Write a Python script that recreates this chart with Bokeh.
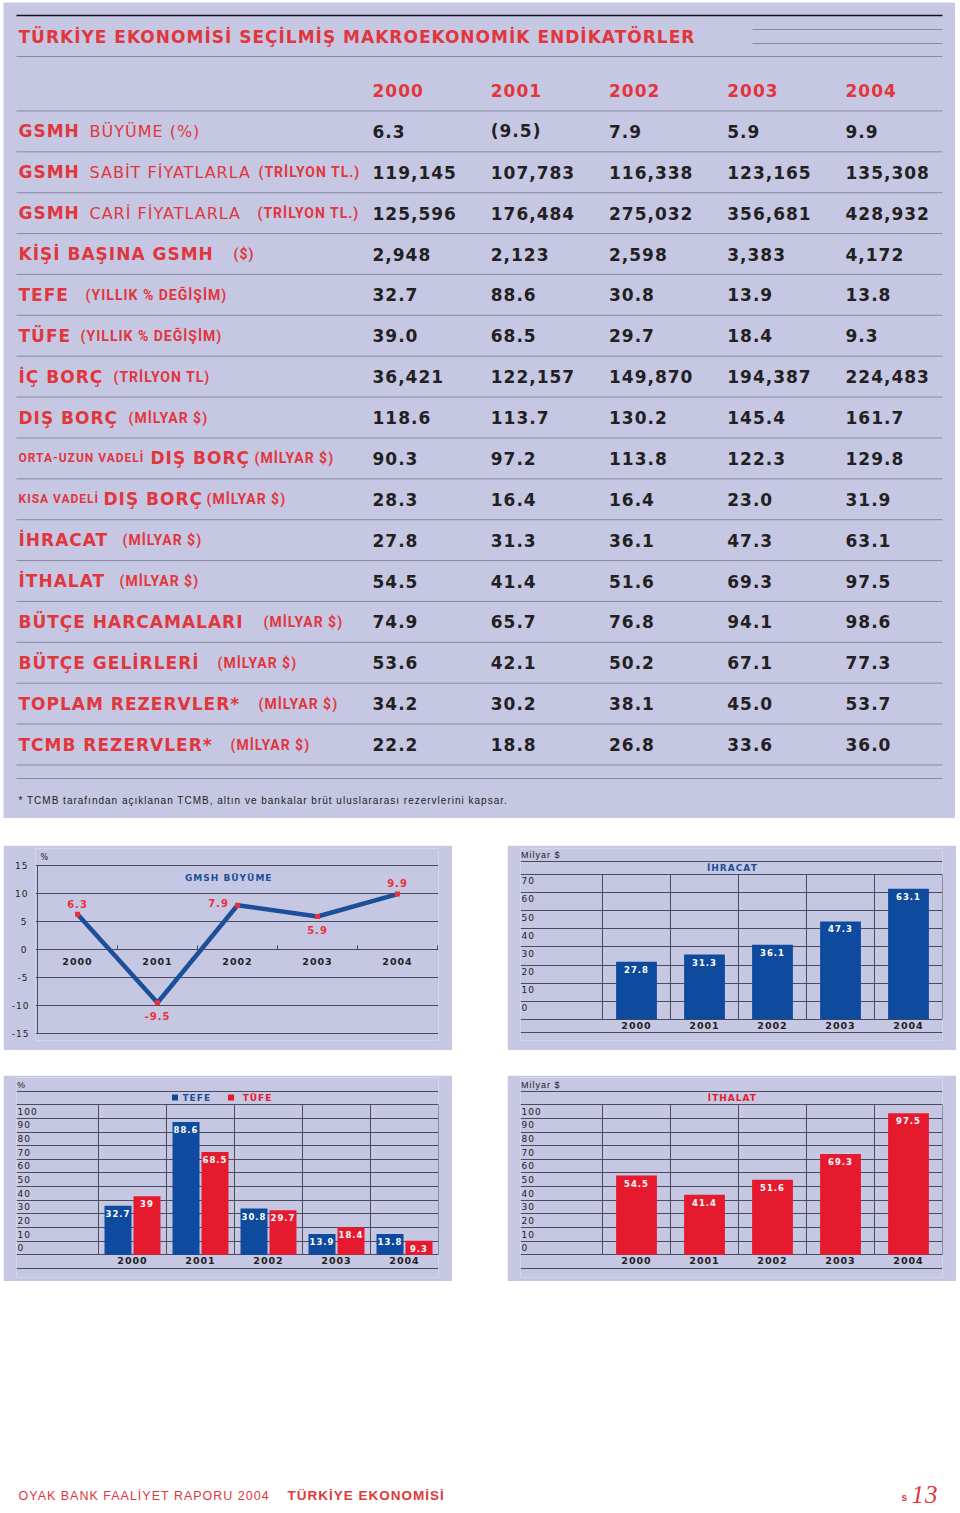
from bokeh.plotting import figure
from bokeh.layouts import column, row
from bokeh.models import Range1d, FixedTicker, Spacer, Grid
from bokeh.core.properties import value
from bokeh.embed import file_html
from bokeh.resources import INLINE

# ---------------- data ----------------
years = ["2000", "2001", "2002", "2003", "2004"]

gsmh_buyume = [6.3, -9.5, 7.9, 5.9, 9.9]
gsmh_sabit = [119145, 107783, 116338, 123165, 135308]
gsmh_cari = [125596, 176484, 275032, 356681, 428932]
kisi_basina = [2948, 2123, 2598, 3383, 4172]
tefe = [32.7, 88.6, 30.8, 13.9, 13.8]
tufe = [39.0, 68.5, 29.7, 18.4, 9.3]
ic_borc = [36421, 122157, 149870, 194387, 224483]
dis_borc = [118.6, 113.7, 130.2, 145.4, 161.7]
orta_uzun_dis_borc = [90.3, 97.2, 113.8, 122.3, 129.8]
kisa_dis_borc = [28.3, 16.4, 16.4, 23.0, 31.9]
ihracat = [27.8, 31.3, 36.1, 47.3, 63.1]
ithalat = [54.5, 41.4, 51.6, 69.3, 97.5]
butce_harcamalari = [74.9, 65.7, 76.8, 94.1, 98.6]
butce_gelirleri = [53.6, 42.1, 50.2, 67.1, 77.3]
toplam_rezervler = [34.2, 30.2, 38.1, 45.0, 53.7]
tcmb_rezervler = [22.2, 18.8, 26.8, 33.6, 36.0]

table_title = "TÜRKİYE EKONOMİSİ SEÇİLMİŞ MAKROEKONOMİK ENDİKATÖRLER"
footnote = "* TCMB tarafından açıklanan TCMB, altın ve bankalar brüt uluslararası rezervlerini kapsar."

row_labels = [
    [("GSMH", "B"), ("BÜYÜME (%)", "R")],
    [("GSMH", "B"), ("SABİT FİYATLARLA", "R"), ("(TRİLYON TL.)", "C")],
    [("GSMH", "B"), ("CARİ FİYATLARLA", "R"), ("(TRİLYON TL.)", "C")],
    [("KİŞİ BAŞINA GSMH", "B"), ("($)", "C")],
    [("TEFE", "B"), ("(YILLIK % DEĞİŞİM)", "C")],
    [("TÜFE", "B"), ("(YILLIK % DEĞİŞİM)", "C")],
    [("İÇ BORÇ", "B"), ("(TRİLYON TL)", "C")],
    [("DIŞ BORÇ", "B"), ("(MİLYAR $)", "C")],
    [("ORTA-UZUN VADELİ", "c"), ("DIŞ BORÇ", "B"), ("(MİLYAR $)", "C")],
    [("KISA VADELİ", "c"), ("DIŞ BORÇ", "B"), ("(MİLYAR $)", "C")],
    [("İHRACAT", "B"), ("(MİLYAR $)", "C")],
    [("İTHALAT", "B"), ("(MİLYAR $)", "C")],
    [("BÜTÇE HARCAMALARI", "B"), ("(MİLYAR $)", "C")],
    [("BÜTÇE GELİRLERİ", "B"), ("(MİLYAR $)", "C")],
    [("TOPLAM REZERVLER*", "B"), ("(MİLYAR $)", "C")],
    [("TCMB REZERVLER*", "B"), ("(MİLYAR $)", "C")],
]
row_values = [gsmh_buyume, gsmh_sabit, gsmh_cari, kisi_basina, tefe, tufe, ic_borc,
              dis_borc, orta_uzun_dis_borc, kisa_dis_borc, ihracat, ithalat,
              butce_harcamalari, butce_gelirleri, toplam_rezervler, tcmb_rezervler]
row_formats = ["growth", "int", "int", "int", "f1", "f1", "int", "f1", "f1", "f1",
               "f1", "f1", "f1", "f1", "f1", "f1"]

line_ticks = [-15, -10, -5, 0, 5, 10, 15]
ihracat_ticks = ["70", "60", "50", "40", "30", "20", "10", "0"]
enflasyon_ticks = ["100", "90", "80", "70", "60", "50", "40", "30", "20", "10", "0"]
ithalat_ticks = ["100", "90", "80", "70", "60", "50", "40", "30", "20", "10", "0"]
legend_names = ["TEFE", "TÜFE"]

# ---------------- styles / layout constants ----------------
LAV = "#c6c7e3"
RED_T = "#e1363c"
NUM_C = "#231f22"
LINE_T = "#8a8ba2"
GRID_C = "#4a4b5c"
BLUE = "#0e4a9d"
BLUE_T = "#1d4f98"
BAR_RED = "#e61a2e"
TXT = "#222222"
LS = 1.0  # letter spacing in px

label_px = [[18, 89], [18, 89, 258], [18, 89, 257], [18, 233], [18, 85], [18, 80],
            [18, 113], [18, 128], [18, 150, 254], [18, 103, 206], [18, 122], [18, 119],
            [18, 263], [18, 217], [18, 258], [18, 230]]

FONTS = {
    "B": ("DejaVu Sans", "bold", "17px"),
    "R": ("DejaVu Sans", "normal", "16px"),
    "C": ("Roboto", "bold", "14px"),
    "c": ("Roboto", "bold", "12px"),
}


def fmt(v, kind):
    if kind == "growth":
        return f"({abs(v):.1f})" if v < 0 else f"{v:.1f}"
    if kind == "int":
        return f"{v:,}"
    return f"{v:.1f}"


def chart_label(v):
    return f"{v:g}"


def comp(texts):
    # compensate centred text for the inherited letter spacing
    return [-len(t) * LS / 2 for t in texts]


def cx(px):
    return (px - 372) / 118.25


def ry(py):
    return (py - 90) / 40.875


def base_fig(w, h, xr, yr, **kw):
    p = figure(width=w, height=h, x_range=xr, y_range=yr, output_backend="svg",
               toolbar_location=None, background_fill_color=LAV, border_fill_color=LAV,
               outline_line_color=None, **kw)
    p.styles = {"letter-spacing": f"{LS}px"}
    return p


# ---------------- table (page px 3..955 x 2..818) ----------------
T = base_fig(952, 816, Range1d(cx(3), cx(955)), Range1d(ry(818), ry(2)),
             x_axis_type=None, y_axis_type=None, min_border=0)

T.segment(x0=[cx(16)], x1=[cx(942)], y0=[ry(15)], y1=[ry(15)], line_color="#151515", line_width=1.6)
T.text(x=[cx(18)], y=[ry(36.5)], text=[table_title], text_font=value("DejaVu Sans"),
       text_font_style="bold", text_font_size="17px", text_color=RED_T,
       text_baseline="middle", text_align="left")
T.segment(x0=[cx(752)] * 2, x1=[cx(942)] * 2, y0=[ry(29), ry(43)], y1=[ry(29), ry(43)],
          line_color=LINE_T, line_width=1)
hl = [ry(56)] + [i + 0.5 for i in range(17)] + [ry(778)]
T.segment(x0=[cx(16)] * len(hl), x1=[cx(942)] * len(hl), y0=hl, y1=hl, line_color=LINE_T, line_width=1)

T.text(x=list(range(5)), y=[0] * 5, text=years, text_font=value("DejaVu Sans"),
       text_font_style="bold", text_font_size="17px", text_color=RED_T,
       text_baseline="middle", text_align="left")

vx, vy, vt = [], [], []
for i, (vals, kind) in enumerate(zip(row_values, row_formats)):
    for j, v in enumerate(vals):
        vx.append(j)
        vy.append(i + 1)
        vt.append(fmt(v, kind))
T.text(x=vx, y=vy, text=vt, text_font=value("DejaVu Sans"), text_font_style="bold",
       text_font_size="17px", text_color=NUM_C, text_baseline="middle", text_align="left")

parts = {k: ([], [], []) for k in FONTS}
for i, (lab, xs) in enumerate(zip(row_labels, label_px)):
    for (txt, kind), px in zip(lab, xs):
        parts[kind][0].append(cx(px))
        parts[kind][1].append(i + 1)
        parts[kind][2].append(txt)
for kind, (xs, ys, ts) in parts.items():
    fam, sty, size = FONTS[kind]
    T.text(x=xs, y=ys, text=ts, text_font=value(fam), text_font_style=sty, text_font_size=size,
           text_color=RED_T, text_baseline="middle", text_align="left")

T.text(x=[cx(18)], y=[ry(800)], text=[footnote], text_font=value("Liberation Sans"),
       text_font_size="10px", text_color=TXT, text_baseline="middle", text_align="left")

# ---------------- chart 1: GSMH growth line (page px 3..452 x 845..1050) ----------------
idx = list(range(5))
C1 = base_fig(449, 205, Range1d(-0.525, 4.5125), Range1d(-16.25, 18.036), x_axis_type=None,
              min_border_left=32, min_border_right=14, min_border_top=3, min_border_bottom=10)
C1.yaxis.ticker = FixedTicker(ticks=line_ticks)
C1.yaxis.major_label_overrides = {t: str(t) for t in line_ticks}
C1.yaxis.axis_line_color = None
C1.yaxis.major_tick_line_color = None
C1.yaxis.minor_tick_line_color = None
C1.yaxis.major_label_standoff = 3
C1.yaxis.major_label_text_font = "DejaVu Sans"
C1.yaxis.major_label_text_font_size = "9px"
C1.yaxis.major_label_text_color = TXT
C1.ygrid.ticker = FixedTicker(ticks=line_ticks)
C1.ygrid.grid_line_color = GRID_C
C1.segment(x0=[-0.5], x1=[-0.5], y0=[min(line_ticks)], y1=[max(line_ticks)], line_color=GRID_C)
cat_b = [i + 0.5 for i in idx]
C1.segment(x0=cat_b, x1=cat_b, y0=[0] * 5, y1=[0.75] * 5, line_color=GRID_C)
C1.line(x=idx, y=gsmh_buyume, line_color=BLUE_T, line_width=4.5, line_join="round")
C1.scatter(x=idx, y=gsmh_buyume, marker="square", size=5, fill_color="#e8323c", line_color=None)
C1.text(x=idx, y=[-2.14] * 5, text=years, x_offset=comp(years), text_font=value("DejaVu Sans"),
        text_font_style="bold", text_font_size="9.5px", text_color=TXT,
        text_align="center", text_baseline="middle")
g_lab = [chart_label(v) for v in gsmh_buyume]
gx_off = [0, 0, -19, 0, 0]
gy_off = [-10, 13, -2, 14, -11.5]
C1.text(x=idx, y=gsmh_buyume, text=g_lab,
        x_offset=[a + b for a, b in zip(gx_off, comp(g_lab))], y_offset=gy_off,
        text_font=value("DejaVu Sans"), text_font_style="bold", text_font_size="10px",
        text_color="#e8323c", text_align="center", text_baseline="middle")
C1.text(x=[1.89], y=[12.7], text=["GMSH BÜYÜME"], x_offset=comp(["GMSH BÜYÜME"]),
        text_font=value("DejaVu Sans"), text_font_style="bold", text_font_size="9px",
        text_color=BLUE_T, text_align="center", text_baseline="middle")
C1.text(x=[-0.5], y=[16.4], x_offset=3, text=["%"], text_font=value("DejaVu Sans"),
        text_font_size="8px", text_color=TXT, text_align="left", text_baseline="middle")


# ---------------- bar charts ----------------
def bar_chart(w, h, mb_l, mb_r, mb_t, mb_b, zero_px, px_per, frame_top_px, frame_bot_px,
              grid_top, n_int, top_line_px, bot_line_px, tick_labels, unit_txt):
    yr = Range1d((zero_px - frame_bot_px) / px_per, (zero_px - frame_top_px) / px_per)
    p = base_fig(w, h, Range1d(-0.70588, 5.5), yr, x_axis_type=None, y_axis_type=None,
                 min_border_left=mb_l, min_border_right=mb_r, min_border_top=mb_t,
                 min_border_bottom=mb_b)
    step = grid_top / n_int
    gt = [k * step for k in range(n_int + 1)]
    extra = [(zero_px - top_line_px) / px_per, (zero_px - bot_line_px) / px_per]
    p.add_layout(Grid(dimension=1, ticker=FixedTicker(ticks=gt + extra), grid_line_color=GRID_C))
    vb = [0.5 + k for k in range(6)]
    p.segment(x0=vb, x1=vb, y0=[0] * 6, y1=[grid_top] * 6, line_color=GRID_C)
    off = 6.5 / px_per
    p.text(x=[-0.70588] * len(tick_labels), y=[grid_top - k * step - off for k in range(len(tick_labels))],
           x_offset=1, text=tick_labels, text_font=value("DejaVu Sans"), text_font_size="9px",
           text_color=TXT, text_align="left", text_baseline="middle")
    p.text(x=[-0.70588], y=[(zero_px - (top_line_px - 6.5)) / px_per], x_offset=0.5, text=[unit_txt],
           text_font=value("Liberation Sans"), text_font_size="9px", text_color=TXT,
           text_align="left", text_baseline="middle")
    xs = [1, 2, 3, 4, 5]
    p.text(x=xs, y=[(zero_px - (bot_line_px - 7.5)) / px_per] * 5, text=years, x_offset=comp(years),
           text_font=value("DejaVu Sans"), text_font_style="bold", text_font_size="9.5px",
           text_color=TXT, text_align="center", text_baseline="middle")
    return p


def bar_values(p, xs, vals):
    labs = [chart_label(v) for v in vals]
    p.text(x=xs, y=vals, text=labs, x_offset=comp(labs), y_offset=7.5,
           text_font=value("DejaVu Sans"), text_font_style="bold", text_font_size="8.5px",
           text_color="white", text_align="center", text_baseline="middle")


cats = [1, 2, 3, 4, 5]

# chart 2: ihracat (page px 507..956 x 845..1050)
C2 = bar_chart(449, 205, 13, 14, 1, 5, 1023, 150 / 70, 846, 1045, 70, 8, 859, 1037,
               ihracat_ticks, "Milyar $")
C2.vbar(x=cats, top=ihracat, width=0.6, fill_color=BLUE, line_color=None)
bar_values(C2, cats, ihracat)
C2.text(x=[2.41], y=[(1023 - 866.5) / (150 / 70)], text=["İHRACAT"], x_offset=comp(["İHRACAT"]),
        text_font=value("DejaVu Sans"), text_font_style="bold", text_font_size="9px",
        text_color=BLUE_T, text_align="center", text_baseline="middle")

# chart 3: TEFE / TÜFE (page px 3..452 x 1075..1281)
C3 = bar_chart(449, 206, 13, 14, 2, 4, 1254.3, 1.5, 1077, 1277, 100, 11, 1091, 1267.7,
               enflasyon_ticks, "%")
xa = [c - 0.213 for c in cats]
xb = [c + 0.213 for c in cats]
C3.vbar(x=xa, top=tefe, width=0.397, fill_color=BLUE, line_color=None)
C3.vbar(x=xb, top=tufe, width=0.397, fill_color=BAR_RED, line_color=None)
bar_values(C3, xa, tefe)
bar_values(C3, xb, tufe)
ly = (1254.3 - 1097) / 1.5
C3.scatter(x=[1.625, 2.449], y=[ly, ly], marker="square", size=6,
           fill_color=[BLUE, BAR_RED], line_color=None)
C3.text(x=[1.735, 2.62], y=[ly, ly], text=legend_names, text_font=value("DejaVu Sans"),
        text_font_style="bold", text_font_size="9px", text_color=[BLUE_T, BAR_RED],
        text_align="left", text_baseline="middle")

# chart 4: ithalat (page px 507..956 x 1075..1281)
C4 = bar_chart(449, 206, 13, 14, 2, 4, 1254.3, 1.453, 1077, 1277, 150 / 1.453, 11, 1091, 1267.7,
               ithalat_ticks, "Milyar $")
C4.vbar(x=cats, top=ithalat, width=0.6, fill_color=BAR_RED, line_color=None)
bar_values(C4, cats, ithalat)
C4.text(x=[2.41], y=[(1254.3 - 1097.5) / 1.453], text=["İTHALAT"], x_offset=comp(["İTHALAT"]),
        text_font=value("DejaVu Sans"), text_font_style="bold", text_font_size="9px",
        text_color=BAR_RED, text_align="center", text_baseline="middle")

# ---------------- footer (page px 0..960 x 1281..1511) ----------------
F = figure(width=960, height=230, x_range=Range1d(0, 960), y_range=Range1d(1511, 1281),
           x_axis_type=None, y_axis_type=None, min_border=0, output_backend="svg",
           toolbar_location=None, background_fill_color="white", border_fill_color="white",
           outline_line_color=None)
F.styles = {"letter-spacing": f"{LS}px"}
F.text(x=[18], y=[1495], text=["OYAK BANK FAALİYET RAPORU 2004"], text_font=value("Liberation Sans"),
       text_font_size="12.5px", text_color=RED_T, text_align="left", text_baseline="middle")
F.text(x=[287], y=[1495], text=["TÜRKİYE EKONOMİSİ"], text_font=value("Liberation Sans"),
       text_font_style="bold", text_font_size="13.5px", text_color=RED_T, text_align="left",
       text_baseline="middle")
F.text(x=[901], y=[1497], text=["s"], text_font=value("Liberation Sans"), text_font_style="bold",
       text_font_size="10px", text_color=RED_T, text_align="left", text_baseline="middle")
F.text(x=[911], y=[1494], text=["13"], text_font=value("Liberation Serif"), text_font_style="italic",
       text_font_size="25px", text_color=RED_T, text_align="left", text_baseline="middle")

layout = column(
    Spacer(width=960, height=2),
    row(Spacer(width=3, height=816), T),
    Spacer(width=960, height=27),
    row(Spacer(width=3, height=205), C1, Spacer(width=55, height=205), C2),
    Spacer(width=960, height=25),
    row(Spacer(width=3, height=206), C3, Spacer(width=55, height=206), C4),
    F,
)

open("out.html", "w").write(file_html(layout, INLINE))
